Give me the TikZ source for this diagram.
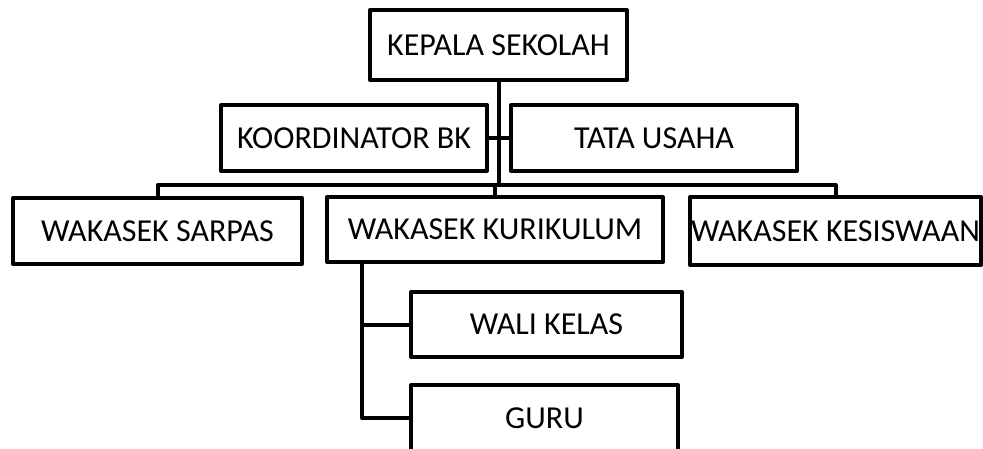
\documentclass[tikz,border=0pt]{standalone}
\usepackage{fontspec}
\setmainfont{Carlito}
\begin{document}
\begin{tikzpicture}[x=1pt,y=-1pt,
  orgbox/.style={draw=black, line width=4pt, line join=round, fill=white,
    rectangle, inner sep=0pt, font=\fontsize{32}{38}\selectfont, anchor=center},
  link/.style={draw=black, line width=4pt, line join=round}]
  \useasboundingbox[fill=white] (0,0) rectangle (983,448);

  % top level
  \node[orgbox, minimum width=257pt, minimum height=70pt] (kepala) at (498.5,45) {KEPALA SEKOLAH};

  % staff beside the head
  \node[orgbox, minimum width=266pt, minimum height=66pt] (bk) at (354,138) {KOORDINATOR BK};
  \node[orgbox, minimum width=286pt, minimum height=66pt] (tu) at (654,138) {TATA USAHA};

  % vice principals
  \node[orgbox, minimum width=289pt, minimum height=66pt] (sarpas) at (157.5,231) {WAKASEK SARPAS};
  \node[orgbox, minimum width=336pt, minimum height=65pt] (kurikulum) at (495,229.5) {WAKASEK KURIKULUM};
  \node[orgbox, minimum width=291pt, minimum height=68pt] (kesiswaan) at (835.5,231) {WAKASEK KESISWAAN};

  % under curriculum
  \node[orgbox, minimum width=271pt, minimum height=65pt] (wali) at (546.5,324.5) {WALI KELAS};
  \node[orgbox, minimum width=267pt, minimum height=66pt] (guru) at (544.5,418) {GURU};

  % connectors
  \coordinate (bar) at (495,185);
  \coordinate (stem) at (362,262);
  \draw[link] (kepala.south) -- (kepala.south |- bar);
  \draw[link] (bk.east) -- (tu.west);
  \draw[link] (sarpas.north) |- (bar) -| (kesiswaan.north);
  \draw[link] (bar) -- (kurikulum.north);
  \draw[link] (stem) |- (wali.west);
  \draw[link] (stem) |- (guru.west);
\end{tikzpicture}
\end{document}
